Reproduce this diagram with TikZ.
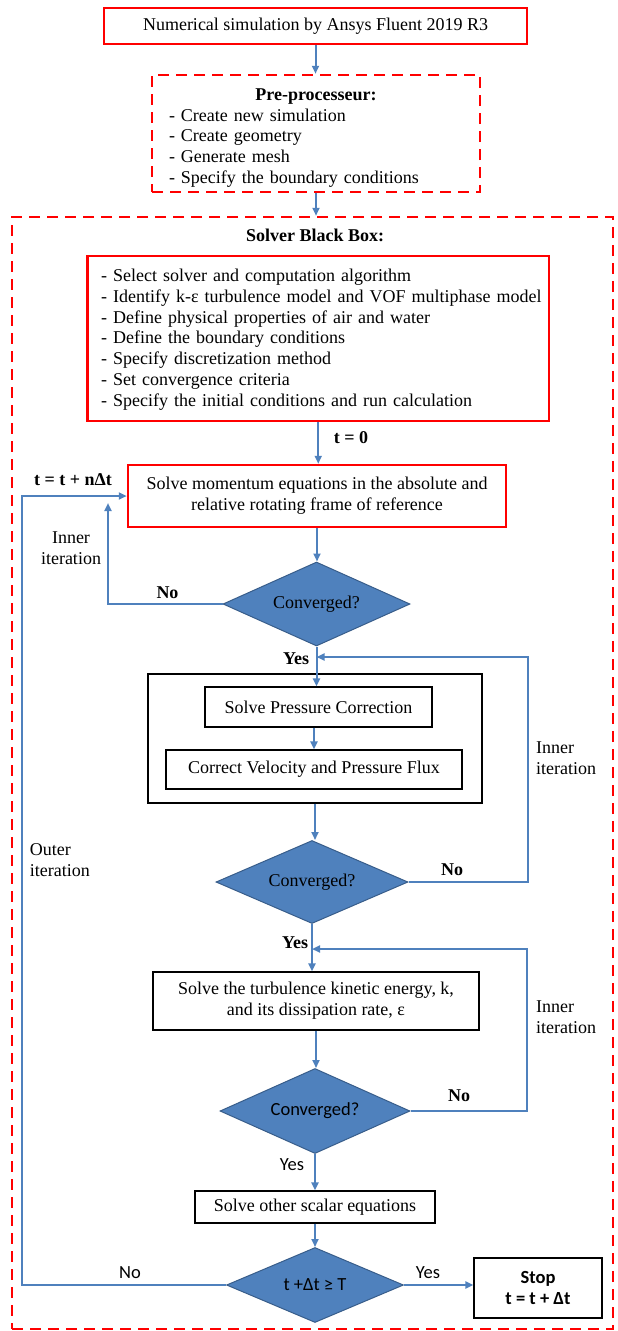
\documentclass[tikz,border=0pt]{standalone}
\usepackage{fontspec}
\setmainfont{Liberation Serif}
\newfontfamily\calib{Carlito}
\usetikzlibrary{shapes.geometric,arrows.meta}
\definecolor{flowblue}{HTML}{4F81BD}
\definecolor{edgeblue}{HTML}{385D8A}
\definecolor{redline}{HTML}{FF0000}
\begin{document}
\begin{tikzpicture}[x=1pt,y=-1pt,
  font=\fontsize{18}{20.8}\selectfont,
  redbox/.style={draw=redline, line width=2.5pt, inner sep=0pt},
  reddash/.style={redbox, dash pattern=on 11pt off 7pt},
  blackbox/.style={draw=black, line width=1.2pt, inner sep=0pt, align=center},
  decision/.style={diamond, shape aspect=2.2, fill=flowblue, draw=edgeblue, line width=1pt, inner sep=0pt},
  flow/.style={draw=flowblue, line width=2pt, -{Triangle[length=8pt,width=7pt]}},
  lbl/.style={inner sep=0pt, font=\fontsize{18}{20.8}\selectfont\bfseries},
  note/.style={inner sep=0pt, font=\fontsize{18}{20.8}\selectfont},
  sanslbl/.style={inner sep=0pt, font=\fontsize{18.5}{21}\selectfont\calib}
]
\useasboundingbox (0,0) rectangle (618,1331);

% outer solver box
\node[reddash, minimum width=601pt, minimum height=1112pt] (solver) at (312.5,773) {};

% top
\node[redbox, minimum width=423pt, minimum height=36pt] (top) at (315.5,26)
  {Numerical simulation by Ansys Fluent 2019 R3};

\node[reddash, minimum width=328pt, minimum height=117pt] (pre) at (316,133.5) {};
\node[inner sep=0pt, text width=294pt, align=left] (pretext) at (316,138)
  {\makebox[294pt]{\textbf{Pre-processeur:}}\\
   - Create new simulation\\
   - Create geometry\\
   - Generate mesh\\
   - Specify the boundary conditions};

\node[lbl] (soltitle) at (315,235) {Solver Black Box:};

\node[redbox, minimum width=461.5pt, minimum height=165pt] (setup) at (318.25,338.5) {};
\node[inner sep=0pt, text width=446pt, align=left, anchor=west] (setuptext) at (101,339.5)
  {- Select solver and computation algorithm\\
   - Identify k-ε turbulence model and VOF multiphase model\\
   - Define physical properties of air and water\\
   - Define the boundary conditions\\
   - Specify discretization method\\
   - Set convergence criteria\\
   - Specify the initial conditions and run calculation};

\node[redbox, minimum width=378pt, minimum height=62pt, align=center] (mom) at (317,496)
  {Solve momentum equations in the absolute and\\relative rotating frame of reference};

\node[decision, minimum width=187pt, minimum height=84pt] (d1) at (316.5,604) {Converged?};

\node[blackbox, minimum width=334pt, minimum height=129pt] (group) at (315,738.5) {};
\node[blackbox, minimum width=227pt, minimum height=40pt] (pres) at (318.5,707) {Solve Pressure Correction};
\node[blackbox, minimum width=296pt, minimum height=39pt] (corr) at (314,769.5) {Correct Velocity and Pressure Flux};

\node[decision, minimum width=192pt, minimum height=83pt] (d2) at (312,882) {Converged?};

\node[blackbox, minimum width=326pt, minimum height=58pt] (turb) at (316,1001)
  {Solve the turbulence kinetic energy, k,\\and its dissipation rate, ε};

\node[decision, minimum width=190pt, minimum height=85pt, font=\fontsize{18.5}{21}\selectfont\calib] (d3) at (315,1111) {Converged?};

\node[blackbox, minimum width=240pt, minimum height=32pt] (scal) at (315,1207) {Solve other scalar equations};

\node[decision, minimum width=177pt, minimum height=75pt, font=\fontsize{18.5}{21}\selectfont\calib] (d4) at (315,1285) {t +Δt ≥ T};

\node[blackbox, minimum width=128pt, minimum height=60pt, font=\fontsize{18.5}{21}\selectfont\calib\bfseries] (stop) at (538,1288)
  {Stop\\t = t + Δt};

% coordinates
\coordinate (in1) at (108,503);
\coordinate (r2) at (528,657);
\coordinate (r3) at (527,949);
\coordinate (outer) at (22,1285);

% connectors
\draw[flow] (top.south) -- (top.south |- pre.north);
\draw[flow] (pre.south) -- (pre.south |- solver.north);
\draw[flow] (setup.south) -- (setup.south |- mom.north);
\draw[flow] (mom.south) -- (mom.south |- d1.north);
\draw[flow] (d1.south) -- (d1.south |- pres.north);
\draw[flow] (pres.south -| corr.north) -- (corr.north);
\draw[flow] (group.south) -- (group.south |- d2.north);
\draw[flow] (d2.south) -- (d2.south |- turb.north);
\draw[flow] (turb.south) -- (turb.south |- d3.north);
\draw[flow] (d3.south) -- (d3.south |- scal.north);
\draw[flow] (scal.south) -- (scal.south |- d4.north);
\draw[flow] (d4.east) -- (d4.east -| stop.west);

\draw[flow] (d1.west) -| (in1);
\draw[flow] (d2.east) -| (r2) -- (r2 -| d1.south);
\draw[flow] (d3.east) -| (r3) -- (r3 -| d2.south);
\draw[flow] (d4.west) -- (outer) |- (mom.west);

% labels
\node[lbl] (l0) at (351,438) {t = 0};
\node[lbl] (ln) at (73,480) {t = t + nΔt};
\node[note, align=center] (ii1) at (71,548) {Inner\\iteration};
\node[lbl] (no1) at (167.5,593) {No};
\node[lbl] (yes1) at (296,659) {Yes};
\node[note, align=left, anchor=west] (ii2) at (536,758.5) {Inner\\iteration};
\node[note, align=left, anchor=west] (oi) at (29.6,860) {Outer\\iteration};
\node[lbl] (no2) at (452,870) {No};
\node[lbl] (yes2) at (295,943) {Yes};
\node[note, align=left, anchor=west] (ii3) at (536,1017.5) {Inner\\iteration};
\node[lbl] (no3) at (459,1096) {No};
\node[sanslbl] (yes3) at (292,1165) {Yes};
\node[sanslbl] (no4) at (130,1273) {No};
\node[sanslbl] (yes4) at (428,1273) {Yes};
\end{tikzpicture}
\end{document}
